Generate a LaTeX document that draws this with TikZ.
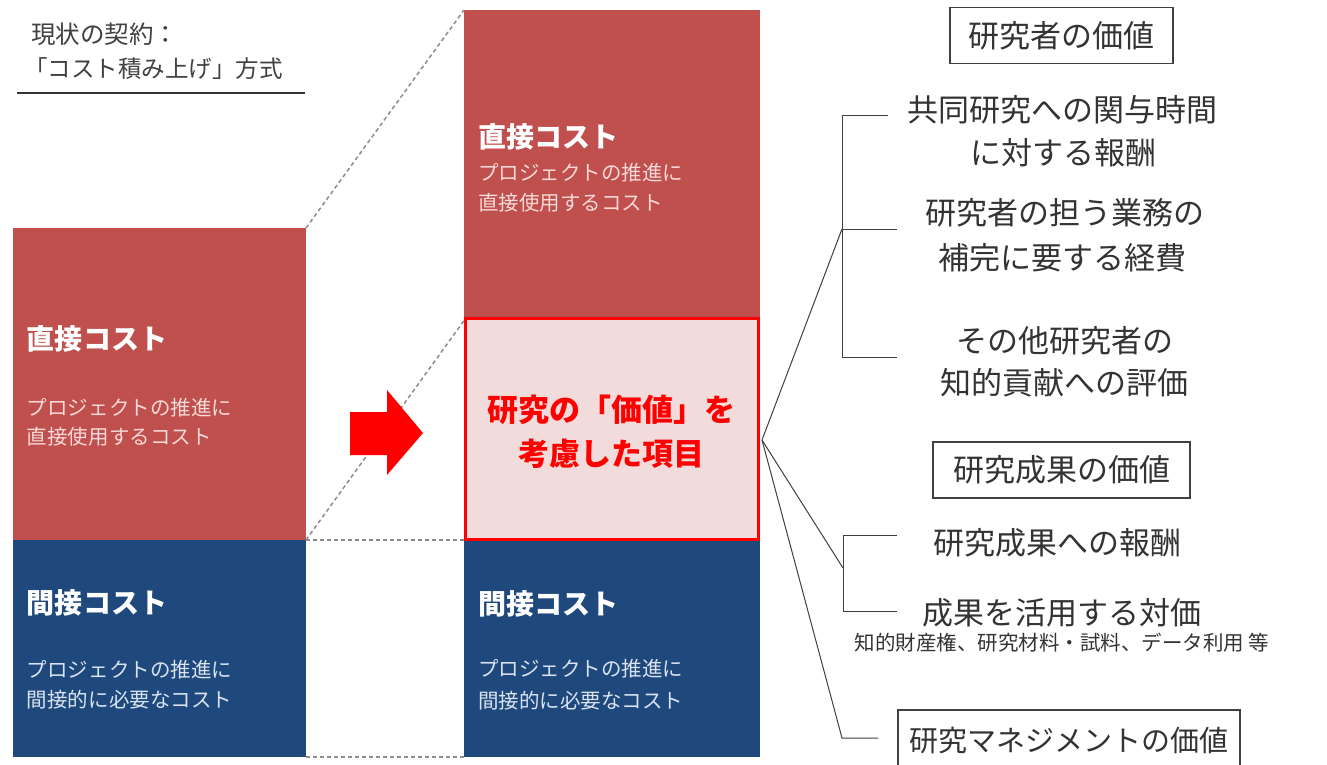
\documentclass[tikz,border=0pt]{standalone}
\usepackage{fontspec}
\setmainfont{Noto Sans CJK JP}
\usetikzlibrary{positioning}
\definecolor{cred}{HTML}{C0504D}
\definecolor{cblue}{HTML}{1F497D}
\definecolor{cpink}{HTML}{F2DCDB}
\definecolor{csubred}{HTML}{F6D9D8}
\definecolor{csubblue}{HTML}{D9E2F0}
\definecolor{ctext}{HTML}{333333}
\definecolor{cline}{HTML}{404040}
\definecolor{cdash}{HTML}{8C8C8C}
\definecolor{carrow}{HTML}{FF0000}
\begin{document}
\begin{tikzpicture}[x=1pt,y=-1pt,
  blk/.style={anchor=north west, inner sep=0, outer sep=0},
  t/.style={inner sep=0, outer sep=0},
  title/.style={t, font=\fontsize{28}{32}\selectfont\bfseries, text=white, anchor=west},
  subr/.style={t, font=\fontsize{20.5}{24}\selectfont, text=csubred, anchor=west},
  subb/.style={t, font=\fontsize{20.5}{24}\selectfont, text=csubblue, anchor=west},
  rt/.style={t, font=\fontsize{31}{36}\selectfont, text=ctext},
  hbox/.style={draw=cline, line width=1.3pt, inner sep=0, minimum height=56pt, font=\fontsize{31}{36}\selectfont, text=ctext},
  conn/.style={draw=cline, line width=1pt},
  dsh/.style={draw=cdash, line width=1.5pt, dash pattern=on 4pt off 3pt}
]
\useasboundingbox (0,0) rectangle (1327,764);
\clip (0,0) rectangle (1327,764);
\fill[white] (0,0) rectangle (1327,764);

% header
\node[t, anchor=west, font=\fontsize{24.5}{28}\selectfont, text=cline] (h1) at (31,34) {現状の契約：};
\node[t, anchor=west, font=\fontsize{23.5}{28}\selectfont, text=cline] (h2) at (24,69) {「コスト積み上げ」方式};
\coordinate (ul1) at (17,93);
\coordinate (ul2) at (305,93);
\draw[conn, line width=1.5pt, draw=ctext] (ul1) -- (ul2);

% left column
\node[blk, fill=cred, minimum width=293pt, minimum height=312pt] (lred) at (13,228) {};
\node[blk, fill=cblue, minimum width=293pt, minimum height=217pt] (lblue) at (13,540) {};
\node[title] (lrt) at (27,339) {直接コスト};
\node[subr] (lrs1) at (27,408) {プロジェクトの推進に};
\node[subr] (lrs2) at (27,437) {直接使用するコスト};
\node[title] (lbt) at (27,603) {間接コスト};
\node[subb] (lbs1) at (27,670) {プロジェクトの推進に};
\node[subb] (lbs2) at (27,700) {間接的に必要なコスト};

% middle column
\node[blk, fill=cred, minimum width=296pt, minimum height=312pt] (mred) at (464,10) {};
\node[blk, fill=cblue, minimum width=296pt, minimum height=217pt] (mblue) at (464,540) {};
\node[blk, fill=cpink, draw=carrow, line width=3pt, minimum width=293pt, minimum height=221pt] (pink) at (465.5,318.5) {};
\node[title] (mrt) at (478,137) {直接コスト};
\node[subr] (mrs1) at (478,173) {プロジェクトの推進に};
\node[subr] (mrs2) at (478,203) {直接使用するコスト};
\node[t, font=\fontsize{31}{36}\selectfont\bfseries, text=carrow] (pk1) at (611,410) {研究の「価値」を};
\node[t, font=\fontsize{31}{36}\selectfont\bfseries, text=carrow] (pk2) at (611,454) {考慮した項目};
\node[title] (mbt) at (478,604) {間接コスト};
\node[subb] (mbs1) at (478,669) {プロジェクトの推進に};
\node[subb] (mbs2) at (478,701) {間接的に必要なコスト};

% dashed projection lines
\draw[dsh] (lred.north east) -- (mred.north west);
\draw[dsh] (lred.south east) -- (pink.north west);
\draw[dsh] (lblue.north east) -- (mblue.north west);
\draw[dsh] (lblue.south east) -- (mblue.south west);

% block arrow
\fill[carrow] (350,412) -- (387,412) -- (387,390) -- (423,433) -- (387,475) -- (387,455) -- (350,455) -- cycle;

% right side
\node[hbox, minimum width=223pt] (v1) at (1061.5,35.5) {研究者の価値};
\node[rt] (r11) at (1062,110) {共同研究への関与時間};
\node[rt] (r12) at (1063,153) {に対する報酬};
\node[rt] (r21) at (1065,213) {研究者の担う業務の};
\node[rt] (r22) at (1062,258) {補完に要する経費};
\node[rt] (r31) at (1065,341) {その他研究者の};
\node[rt] (r32) at (1064,383) {知的貢献への評価};

\node[hbox, minimum width=257pt] (v2) at (1061.5,470) {研究成果の価値};
\node[rt] (s1) at (1057,543) {研究成果への報酬};
\node[rt] (s2) at (1062,613) {成果を活用する対価};
\node[t, font=\fontsize{20.5}{24}\selectfont, text=ctext] (s3) at (1062,643) {知的財産権、研究材料・試料、データ利用 等};

\node[hbox, minimum width=342pt, minimum height=62pt, font=\fontsize{29}{34}\selectfont] (v3) at (1069,741) {研究マネジメントの価値};

% connectors
\coordinate (fan) at (762,440);
\coordinate (k1) at (842,229);
\coordinate (k1t) at (888,115);
\coordinate (k1m) at (897,229);
\coordinate (k1b) at (897,357);
\coordinate (k2) at (843,568);
\coordinate (k2t) at (897,535);
\coordinate (k2b) at (897,611);
\coordinate (k3) at (842,738);
\coordinate (k3e) at (878,738);

\draw[conn] (k1t) -| (k1b -| k1) -- (k1b);
\draw[conn] (k1) -- (k1m);
\draw[conn] (k2t) -| (k2b -| k2) -- (k2b);
\draw[conn] (fan) -- (k1);
\draw[conn] (fan) -- (k2);
\draw[conn] (fan) -- (k3) -- (k3e);
\end{tikzpicture}
\end{document}
